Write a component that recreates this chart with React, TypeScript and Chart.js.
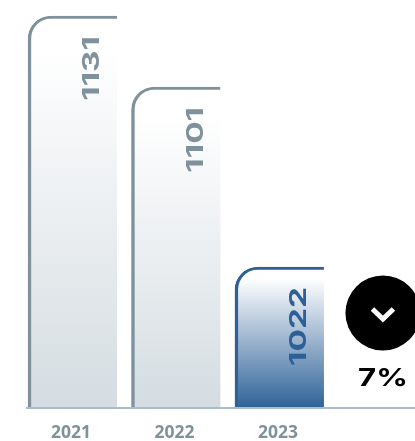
import React, { useEffect, useRef } from "react";
import { Chart, registerables } from "chart.js";

Chart.register(...registerables);

const years = [2021, 2022, 2023];
const valueLabels = ["1131", "1101", "1022"];
// The bars in the source are not proportional to their numbers, so heights are read off the picture.
const barLevels = [392, 321, 141];
const fillEnds = ["#d4dce1", "#d4dce1", "#2f6298"];
const lineColors = ["#7f929c", "#7f929c", "#2d6097"];
const changeLabel = "7%";

const overlay = {
  id: "overlay",
  afterDatasetsDraw(chart: any) {
    const { ctx, scales } = chart;
    const x = scales.x;
    const y = scales.y;
    ctx.save();
    years.forEach((yr, i) => {
      const px = x.getPixelForValue(yr) + 20;
      const py = y.getPixelForValue(barLevels[i]) + 20;
      ctx.save();
      ctx.translate(px, py);
      ctx.rotate(-Math.PI / 2);
      ctx.scale(1.45, 1);
      ctx.font = "700 23px Inter";
      ctx.fillStyle = lineColors[i];
      ctx.textAlign = "right";
      ctx.textBaseline = "middle";
      ctx.fillText(valueLabels[i], 0, 0);
      ctx.restore();
    });
    const cx = x.getPixelForValue(2024.0);
    const cy = y.getPixelForValue(95);
    ctx.fillStyle = "#000";
    ctx.beginPath();
    ctx.arc(cx, cy, 37.5, 0, Math.PI * 2);
    ctx.fill();
    ctx.strokeStyle = "#fff";
    ctx.lineWidth = 5;
    ctx.lineCap = "butt";
    ctx.lineJoin = "miter";
    ctx.beginPath();
    ctx.moveTo(cx - 10.5, cy - 4);
    ctx.lineTo(cx, cy + 6);
    ctx.lineTo(cx + 10.5, cy - 4);
    ctx.stroke();
    ctx.save();
    ctx.translate(cx, y.getPixelForValue(29));
    ctx.scale(1.3, 1);
    ctx.fillStyle = "#000";
    ctx.font = "700 24px Inter";
    ctx.textAlign = "center";
    ctx.textBaseline = "middle";
    ctx.fillText(changeLabel, 0, 0);
    ctx.restore();
    ctx.restore();
  },
};

export default function App() {
  const ref = useRef<HTMLCanvasElement>(null);
  useEffect(() => {
    const chart = new Chart(ref.current!, {
      type: "bar",
      data: {
        datasets: [
          {
            data: years.map((yr, i) => ({ x: yr, y: barLevels[i] })),
            barThickness: 89,
            borderWidth: { top: 3, left: 3.5, right: 0, bottom: 0 },
            borderSkipped: false,
            borderRadius: { topLeft: 23, topRight: 0, bottomLeft: 0, bottomRight: 0 },
            borderColor: (c: any) => lineColors[c.dataIndex] ?? lineColors[0],
            backgroundColor: (c: any) => {
              const scale = c.chart.scales.y;
              if (!scale || c.dataIndex === undefined || !c.chart.chartArea) return "#fff";
              const top = scale.getPixelForValue(barLevels[c.dataIndex]);
              const bottom = scale.getPixelForValue(0);
              if (!isFinite(top) || !isFinite(bottom)) return "#fff";
              const g = c.chart.ctx.createLinearGradient(0, top, 0, bottom);
              g.addColorStop(0, "#ffffff");
              g.addColorStop(0.08, "#ffffff");
              g.addColorStop(1, fillEnds[c.dataIndex]);
              return g;
            },
          },
        ],
      } as any,
      options: {
        animation: false,
        responsive: false,
        layout: { padding: { left: 27, right: 0, top: 0, bottom: 0 } },
        plugins: { legend: { display: false }, tooltip: { enabled: false } },
        scales: {
          x: {
            type: "linear",
            offset: false,
            min: 2020.56,
            max: 2024.31,
            afterFit: (s: any) => {
              s.height = 33;
            },
            afterBuildTicks: (s: any) => {
              s.ticks = years.map((v) => ({ value: v }));
            },
            grid: { display: false },
            border: { display: true, color: "#a9bccf", width: 2, z: 1 },
            ticks: {
              autoSkip: false,
              maxRotation: 0,
              padding: 7,
              labelOffset: -1.5,
              color: "#7f929c",
              font: { family: "'Open Sans'", size: 17.5, weight: "bold" },
              callback: (v: any) => String(v),
            },
          },
          y: { display: false, min: 0, max: 408 },
        },
      } as any,
      plugins: [overlay],
    });
    return () => chart.destroy();
  }, []);
  return (
    <div style={{ position: "absolute", left: 0, top: 0, width: 415, height: 441 }}>
      <canvas ref={ref} width={415} height={441} style={{ display: "block" }} />
    </div>
  );
}
